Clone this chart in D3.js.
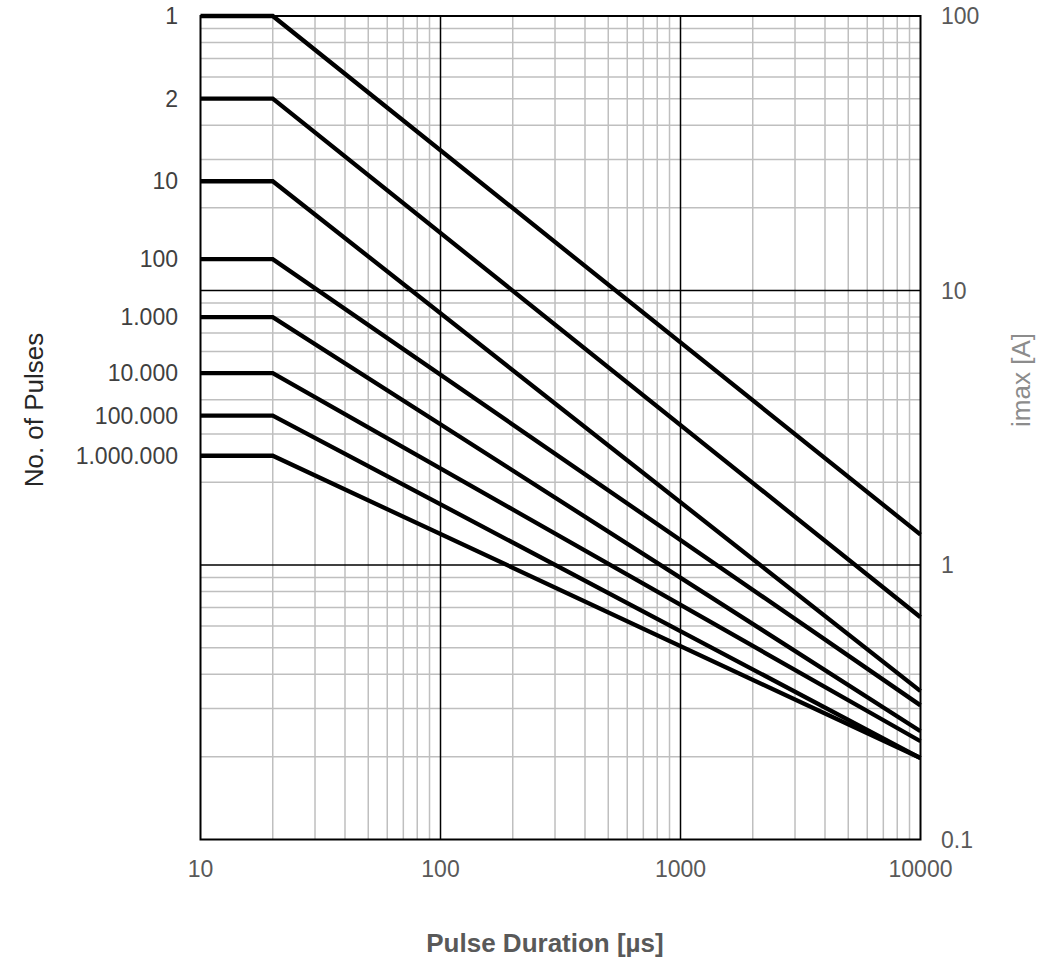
<!DOCTYPE html>
<html lang="en">
<head>
  <meta charset="UTF-8" />
  <title>Pulse Duration vs imax</title>
  <script src="https://d3js.org/d3.v7.min.js"></script>
  <style>
    body {
      margin: 0;
      background: #fff;
      font-family: 'Liberation Sans', Arial, sans-serif;
    }
    svg { display: block; }
    .tick-label { font-size: 23px; fill: #595959; }
    .pulse-label { font-size: 23px; fill: #404040; }
  </style>
</head>
<body>
  <svg width="1058" height="964"></svg>

  <script>
    // pulse counts shown on the left, one per curve
    const pulses = ["1", "2", "10", "100", "1.000", "10.000", "100.000", "1.000.000"];
    // imax [A] at the 20 µs knee and at 10000 µs
    const startCurrent = [100, 50, 25, 13, 8, 5, 3.5, 2.5];
    const endCurrent = [1.29, 0.645, 0.347, 0.308, 0.248, 0.228, 0.198, 0.198];
    const durations = [10, 20, 10000];
    const xTicks = [10, 100, 1000, 10000];
    const yTicks = [0.1, 1, 10, 100];

    const svg = d3.select("svg");
    const plotLeft = 200.5, plotRight = 920.5, plotTop = 16, plotBottom = 839.5;

    const x = d3.scaleLog().domain([10, 10000]).range([plotLeft, plotRight]);
    const y = d3.scaleLog().domain([0.1, 100]).range([plotBottom, plotTop]);

    const isMajor = v => Math.abs(Math.log10(v) - Math.round(Math.log10(v))) < 1e-9;

    // minor grid
    const grid = svg.append("g");
    grid.append("g").selectAll("line")
      .data(x.ticks().filter(v => !isMajor(v)))
      .join("line")
      .attr("x1", d => x(d)).attr("x2", d => x(d))
      .attr("y1", plotTop).attr("y2", plotBottom)
      .attr("stroke", "#bfbfbf").attr("stroke-width", 1.5);

    grid.append("g").selectAll("line")
      .data(y.ticks().filter(v => !isMajor(v)))
      .join("line")
      .attr("x1", plotLeft).attr("x2", plotRight)
      .attr("y1", d => y(d)).attr("y2", d => y(d))
      .attr("stroke", "#bfbfbf").attr("stroke-width", 1.5);

    // major grid
    grid.append("g").selectAll("line")
      .data(xTicks.slice(1, -1))
      .join("line")
      .attr("x1", d => x(d)).attr("x2", d => x(d))
      .attr("y1", plotTop).attr("y2", plotBottom)
      .attr("stroke", "#000").attr("stroke-width", 1.5);

    grid.append("g").selectAll("line")
      .data(yTicks.slice(1, -1))
      .join("line")
      .attr("x1", plotLeft).attr("x2", plotRight)
      .attr("y1", d => y(d)).attr("y2", d => y(d))
      .attr("stroke", "#000").attr("stroke-width", 1.5);

    // curves
    const line = d3.line().x(d => x(d[0])).y(d => y(d[1]));
    const series = startCurrent.map((s, i) => [[durations[0], s], [durations[1], s], [durations[2], endCurrent[i]]]);

    svg.append("g")
      .selectAll("path")
      .data(series)
      .join("path")
      .attr("d", line)
      .attr("fill", "none")
      .attr("stroke", "#000")
      .attr("stroke-width", 4.3)
      .attr("stroke-linejoin", "miter");

    // plot frame
    svg.append("rect")
      .attr("x", plotLeft).attr("y", plotTop)
      .attr("width", plotRight - plotLeft).attr("height", plotBottom - plotTop)
      .attr("fill", "none").attr("stroke", "#000").attr("stroke-width", 2);

    // x tick labels
    svg.append("g")
      .selectAll("text")
      .data(xTicks)
      .join("text")
      .attr("class", "tick-label")
      .attr("x", d => x(d))
      .attr("y", 877)
      .attr("text-anchor", "middle")
      .text(d => d);

    // right axis labels
    svg.append("g")
      .selectAll("text")
      .data(yTicks)
      .join("text")
      .attr("class", "tick-label")
      .attr("x", 941)
      .attr("y", d => y(d))
      .attr("dy", "0.35em")
      .text(d => d);

    // pulse labels on the left
    svg.append("g")
      .selectAll("text")
      .data(pulses)
      .join("text")
      .attr("class", "pulse-label")
      .attr("x", 178)
      .attr("y", (d, i) => y(startCurrent[i]))
      .attr("dy", "0.35em")
      .attr("text-anchor", "end")
      .text(d => d);

    // axis titles
    svg.append("text")
      .attr("transform", "translate(43,410) rotate(-90)")
      .attr("text-anchor", "middle")
      .attr("font-size", 26)
      .attr("fill", "#262626")
      .text("No. of Pulses");

    svg.append("text")
      .attr("transform", "translate(1030,380) rotate(-90)")
      .attr("text-anchor", "middle")
      .attr("font-size", 26)
      .attr("fill", "#8c8c8c")
      .text("imax [A]");

    svg.append("text")
      .attr("x", 545)
      .attr("y", 952)
      .attr("text-anchor", "middle")
      .attr("font-size", 26)
      .attr("font-weight", "bold")
      .attr("fill", "#595959")
      .text("Pulse Duration [µs]");
  </script>
</body>
</html>
